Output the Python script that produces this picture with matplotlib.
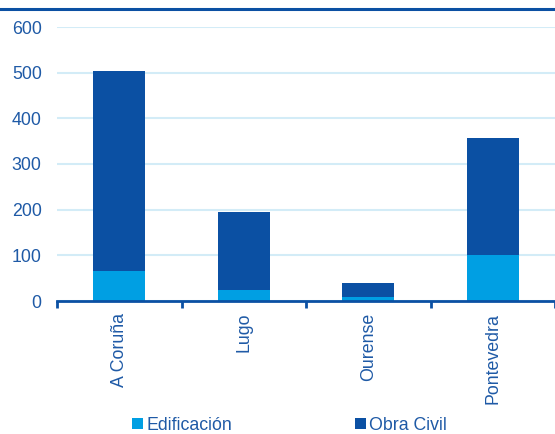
import matplotlib.pyplot as plt
import numpy as np
from matplotlib.lines import Line2D

provincias = ['A Coruña', 'Lugo', 'Ourense', 'Pontevedra']
edificacion = [66, 24, 8, 101]
obra_civil = [437, 170, 31, 255]
yticks = [0, 100, 200, 300, 400, 500, 600]

c_edif = '#009FE3'
c_obra = '#0B50A3'
c_text = '#1F5AA6'

plt.rcParams['font.family'] = ['Liberation Sans', 'DejaVu Sans']

fig = plt.figure(figsize=(5.55, 4.34), dpi=100)
ax = fig.add_axes([57/555, 1 - 301/434, 1 - 57/555, (301 - 27)/434])

x = np.arange(len(provincias))
ax.bar(x, edificacion, width=0.415, color=c_edif, label='Edificación', zorder=3)
ax.bar(x, obra_civil, width=0.415, bottom=edificacion, color=c_obra, label='Obra Civil', zorder=3)

ax.set_xlim(-0.5, 3.474)
ax.set_ylim(0, 600)
ax.set_yticks(yticks)
ax.grid(axis='y', color='#D3ECF7', linewidth=1.5, zorder=0)

for s in ['top', 'right', 'left']:
    ax.spines[s].set_visible(False)
ax.spines['bottom'].set_color(c_obra)
ax.spines['bottom'].set_linewidth(2)
ax.spines['bottom'].set_zorder(4)

ax.set_xticks(x)
ax.set_xticklabels(provincias, rotation=90, va='top', ha='center')
ax.set_xticks(np.arange(-0.5, 4, 1), minor=True)
ax.tick_params(axis='x', which='major', length=0, pad=8.5, labelsize=12.8, labelcolor=c_text)
ax.tick_params(axis='x', which='minor', length=5, width=2, color=c_obra, direction='out')
ax.tick_params(axis='y', length=0, pad=11, labelsize=12.8, labelcolor=c_text)

fig.add_artist(Line2D([0, 1], [1 - 8.7/434, 1 - 8.7/434], color=c_obra, linewidth=2.2))

leg = fig.legend(loc='lower center', bbox_to_anchor=(0.522, 0.0), ncol=2, frameon=False,
                 fontsize=12.8, handlelength=0.6, handleheight=0.6, handletextpad=0.2,
                 columnspacing=6.9, borderaxespad=0, borderpad=0)
for t in leg.get_texts():
    t.set_color(c_text)

fig.savefig('out.png', dpi=100)
